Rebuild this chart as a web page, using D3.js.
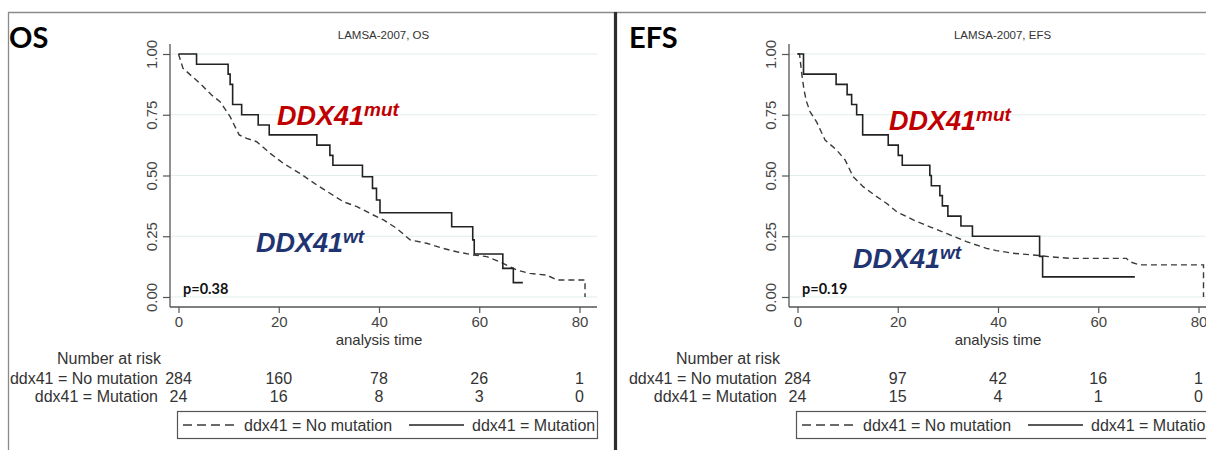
<!DOCTYPE html>
<html>
<head>
<meta charset="utf-8">
<script src="https://cdn.jsdelivr.net/npm/d3@7/dist/d3.min.js"></script>
<style>
  body { margin: 0; background: #fff; }
  svg { display: block; }
  text { font-family: "Liberation Sans", Arial, sans-serif; }
</style>
</head>
<body>
<svg id="chart" width="1206" height="450"></svg>
<script>
// ---- Kaplan–Meier estimates, LAMSA-2007 (time in months) ----

// Overall survival, DDX41 mutated (step function)
const osMutTime = [0, 3.6, 9.9, 10.3, 10.8, 12.6, 15.9, 18.1, 27.6, 30.2, 30.8, 36.7, 38.7, 39.5, 40.2, 54.5, 58.7, 59.0, 64.7, 66.8];
const osMutSurv = [1, 0.958, 0.917, 0.875, 0.792, 0.75, 0.708, 0.667, 0.625, 0.583, 0.542, 0.495, 0.447, 0.399, 0.347, 0.289, 0.235, 0.177, 0.118, 0.059];
const osMutLast = 68.7;

// Overall survival, DDX41 wild-type
const osWtTime = [0, 0.9, 4.3, 6.6, 8.3, 10.3, 12.1, 13.6, 15.6, 18.3, 20.9, 24.2, 27.6, 30.2, 32.9, 35.6, 38.2, 40.9, 43.5, 46.2, 49.5, 52.8, 55.5, 58.8, 61.5, 64.1, 66.1, 67.5, 70.1, 73.5, 75.5, 81.1, 81.1];
const osWtSurv = [1, 0.941, 0.879, 0.831, 0.804, 0.742, 0.667, 0.653, 0.639, 0.591, 0.55, 0.509, 0.461, 0.427, 0.392, 0.372, 0.344, 0.317, 0.283, 0.235, 0.221, 0.2, 0.186, 0.173, 0.166, 0.145, 0.125, 0.111, 0.097, 0.09, 0.07, 0.07, 0];

// Event-free survival, DDX41 mutated (step function)
const efsMutTime = [0, 1.2, 7.7, 9.9, 10.8, 11.8, 13.0, 18.1, 20.1, 20.9, 26.4, 26.7, 28.4, 28.9, 30.0, 32.6, 34.9, 48.3, 48.9];
const efsMutSurv = [1, 0.917, 0.875, 0.833, 0.792, 0.75, 0.667, 0.625, 0.583, 0.542, 0.5, 0.458, 0.417, 0.375, 0.333, 0.292, 0.25, 0.167, 0.083];
const efsMutLast = 67.3;

// Event-free survival, DDX41 wild-type
const efsWtTime = [0, 0.4, 0.84, 1.3, 1.8, 2.5, 3.8, 5.5, 7.8, 9.5, 11.1, 13.1, 15.8, 17.8, 19.8, 23.1, 26.4, 29.7, 33.7, 37.7, 39.7, 43.0, 47.0, 50.3, 54.3, 65.6, 66.3, 68.3, 81.0, 81.0];
const efsWtSurv = [1, 1, 0.92, 0.852, 0.804, 0.763, 0.721, 0.646, 0.605, 0.564, 0.495, 0.454, 0.413, 0.385, 0.351, 0.317, 0.289, 0.262, 0.228, 0.2, 0.191, 0.18, 0.173, 0.166, 0.159, 0.159, 0.145, 0.132, 0.132, 0];

// Axis ticks and numbers at risk
const xTicks = [0, 20, 40, 60, 80];
const yTicks = [0, 0.25, 0.5, 0.75, 1];
const riskRows = ["ddx41 = No mutation", "ddx41 = Mutation"];
const osRiskWt = [284, 160, 78, 26, 1];
const osRiskMut = [24, 16, 8, 3, 0];
const efsRiskWt = [284, 97, 42, 16, 1];
const efsRiskMut = [24, 15, 4, 1, 0];

const panels = [
  { tag: "OS", title: "LAMSA-2007, OS", p: "p=0.38", dx: 0,
    mutT: osMutTime, mutS: osMutSurv, mutLast: osMutLast,
    wtT: osWtTime, wtS: osWtSurv, riskWt: osRiskWt, riskMut: osRiskMut,
    mutLbl: [277, 125], wtLbl: [256, 252] },
  { tag: "EFS", title: "LAMSA-2007, EFS", p: "p=0.19", dx: 619,
    mutT: efsMutTime, mutS: efsMutSurv, mutLast: efsMutLast,
    wtT: efsWtTime, wtS: efsWtSurv, riskWt: efsRiskWt, riskMut: efsRiskMut,
    mutLbl: [270, 130], wtLbl: [234, 268] }
];

const svg = d3.select("#chart");

// Frame lines
svg.append("line").attr("x1", 8).attr("x2", 1206).attr("y1", 12.5).attr("y2", 12.5)
  .attr("stroke", "#8a8a8a").attr("stroke-width", 1.3);
svg.append("line").attr("x1", 8.5).attr("x2", 8.5).attr("y1", 12).attr("y2", 450)
  .attr("stroke", "#8a8a8a").attr("stroke-width", 1.3);

const x = d3.scaleLinear().domain([0, 80]).range([178.5, 579.5]);
const y = d3.scaleLinear().domain([0, 1]).range([297, 54]);
const plotLeft = 170, plotRight = 597, axisY = 307, axisTop = 44;

panels.forEach(P => {
  const g = svg.append("g").attr("transform", `translate(${P.dx},0)`);

  // Panel tag
  svg.append("text").attr("x", P.dx === 0 ? 9 : 629).attr("y", 48)
    .style("font-family", "Lato, 'Open Sans', sans-serif")
    .attr("font-size", 29).attr("font-weight", 700).attr("fill", "#000").text(P.tag);

  // Title
  g.append("text").attr("x", (plotLeft + plotRight) / 2).attr("y", 39)
    .attr("text-anchor", "middle").attr("font-size", 11.5).attr("fill", "#333").text(P.title);

  // Gridlines
  g.append("g").selectAll("line").data(yTicks).join("line")
    .attr("x1", plotLeft).attr("x2", plotRight)
    .attr("y1", d => y(d)).attr("y2", d => y(d))
    .attr("stroke", "#e2eded").attr("stroke-width", 1.2);

  // Y axis (labels rotated, reading upward)
  const yAxis = d3.axisLeft(y).tickValues(yTicks).tickFormat(d3.format(".2f"))
    .tickSize(7).tickPadding(6);
  const ya = g.append("g").attr("transform", `translate(${plotLeft},0)`).call(yAxis);
  ya.select(".domain").remove();
  ya.append("line").attr("x1", 0).attr("x2", 0).attr("y1", axisTop).attr("y2", axisY)
    .attr("stroke", "#555").attr("stroke-width", 1.3);
  ya.selectAll(".tick line").attr("stroke", "#555").attr("stroke-width", 1.2);
  ya.selectAll(".tick text")
    .attr("font-size", 15).attr("fill", "#444")
    .attr("text-anchor", "middle").attr("dy", 0)
    .attr("x", 0).attr("y", -13)
    .attr("transform", "rotate(-90)");

  // X axis
  const xAxis = d3.axisBottom(x).tickValues(xTicks).tickSize(6).tickPadding(3);
  const xa = g.append("g").attr("transform", `translate(0,${axisY})`).call(xAxis);
  xa.select(".domain").remove();
  xa.append("line").attr("x1", plotLeft).attr("x2", plotRight).attr("y1", 0).attr("y2", 0)
    .attr("stroke", "#555").attr("stroke-width", 1.3);
  xa.selectAll(".tick line").attr("stroke", "#555").attr("stroke-width", 1.2);
  xa.selectAll(".tick text").attr("font-size", 15).attr("fill", "#444");

  g.append("text").attr("x", (x(0) + x(80)) / 2).attr("y", 345)
    .attr("text-anchor", "middle").attr("font-size", 15).attr("fill", "#333").text("analysis time");

  // Curves
  const wtPts = P.wtT.map((t, i) => [t, P.wtS[i]]);
  const mutPts = P.mutT.map((t, i) => [t, P.mutS[i]]);
  mutPts.push([P.mutLast, P.mutS[P.mutS.length - 1]]);

  const lineLin = d3.line().x(d => x(d[0])).y(d => y(d[1]));
  const lineStep = d3.line().x(d => x(d[0])).y(d => y(d[1])).curve(d3.curveStepAfter);

  g.append("path").attr("d", lineLin(wtPts)).attr("fill", "none")
    .attr("stroke", "#3a3a3a").attr("stroke-width", 1.4).attr("stroke-dasharray", "6,4");
  g.append("path").attr("d", lineStep(mutPts)).attr("fill", "none")
    .attr("stroke", "#222").attr("stroke-width", 1.6);

  // Group labels
  const addLabel = (pos, sup, color) => {
    const t = g.append("text").attr("x", pos[0]).attr("y", pos[1])
      .attr("font-size", 27).attr("font-weight", 700).attr("font-style", "italic").attr("fill", color);
    t.append("tspan").text("DDX41");
    t.append("tspan").attr("font-size", 19).attr("dy", -9).text(sup);
  };
  addLabel(P.mutLbl, "mut", "#c00000");
  addLabel(P.wtLbl, "wt", "#1f3470");

  // p-value
  g.append("text").attr("x", 183).attr("y", 294)
    .style("font-family", "Lato, 'Open Sans', sans-serif")
    .attr("font-size", 14.5).attr("font-weight", 700).attr("fill", "#111").text(P.p);

  // Numbers at risk
  const labEnd = 158;
  g.append("text").attr("x", labEnd + 3).attr("y", 364).attr("text-anchor", "end")
    .attr("font-size", 16).attr("fill", "#333").text("Number at risk");
  [P.riskWt, P.riskMut].forEach((vals, r) => {
    const yy = 384 + r * 18;
    g.append("text").attr("x", labEnd).attr("y", yy).attr("text-anchor", "end")
      .attr("font-size", 16).attr("fill", "#333").text(riskRows[r]);
    g.append("g").selectAll("text").data(vals).join("text")
      .attr("x", (d, i) => x(xTicks[i])).attr("y", yy).attr("text-anchor", "middle")
      .attr("font-size", 16).attr("fill", "#333").text(d => d);
  });

  // Legend
  const lg = g.append("g");
  lg.append("rect").attr("x", 177.5).attr("y", 411.5).attr("width", 420).attr("height", 27)
    .attr("fill", "#fff").attr("stroke", "#555").attr("stroke-width", 1.2);
  lg.append("line").attr("x1", 183).attr("x2", 238).attr("y1", 425).attr("y2", 425)
    .attr("stroke", "#3a3a3a").attr("stroke-width", 1.4).attr("stroke-dasharray", "9,5");
  lg.append("text").attr("x", 244).attr("y", 431).attr("font-size", 16).attr("fill", "#333").text(riskRows[0]);
  lg.append("line").attr("x1", 409).attr("x2", 464).attr("y1", 425).attr("y2", 425)
    .attr("stroke", "#222").attr("stroke-width", 1.6);
  lg.append("text").attr("x", 472).attr("y", 431).attr("font-size", 16).attr("fill", "#333").text(riskRows[1]);
});

// Divider between panels
svg.append("line").attr("x1", 615.5).attr("x2", 615.5).attr("y1", 12).attr("y2", 450)
  .attr("stroke", "#2e2e2e").attr("stroke-width", 3.2);
</script>
</body>
</html>
